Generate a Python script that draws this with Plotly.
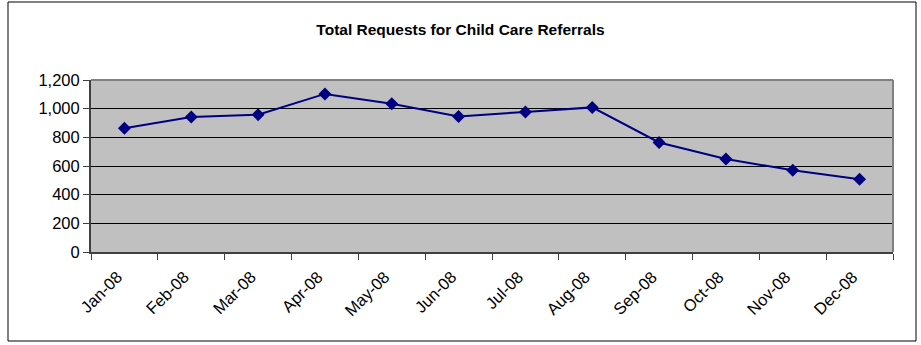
import plotly.graph_objects as go

months = ["Jan-08", "Feb-08", "Mar-08", "Apr-08", "May-08", "Jun-08",
          "Jul-08", "Aug-08", "Sep-08", "Oct-08", "Nov-08", "Dec-08"]
requests = [864, 942, 958, 1103, 1035, 946, 977, 1009, 764, 649, 570, 507]
y_ticks = [0, 200, 400, 600, 800, 1000, 1200]
y_tick_labels = ["0", "200", "400", "600", "800", "1,000", "1,200"]
title_text = "Total Requests for Child Care Referrals"

fig = go.Figure()
fig.add_trace(go.Scatter(
    x=months, y=requests, mode="lines+markers",
    line=dict(color="#000080", width=2),
    marker=dict(symbol="diamond", size=10, color="#000080"),
    showlegend=False, hoverinfo="x+y",
))

W, H = 921, 345
ml, mr, mt, mb = 91, 28, 80, 93
pw = W - ml - mr
ph = H - mt - mb

def px_to_paper_x(px):
    return (px - ml) / pw

def px_to_paper_y(py):
    return (H - mb - py) / ph

fig.update_layout(
    width=W, height=H,
    margin=dict(l=ml, r=mr, t=mt, b=mb),
    paper_bgcolor="white",
    plot_bgcolor="#C0C0C0",
    font=dict(family="Liberation Sans, Arial, sans-serif", size=17, color="black"),
    title=dict(text="<b>" + title_text + "</b>", x=0.5, xanchor="center",
               xref="container", y=1 - 30 / H, yanchor="middle",
               font=dict(size=15.5, color="black")),
    xaxis=dict(
        type="category", range=[-0.5, len(months) - 0.5],
        showgrid=False, showline=True, linecolor="#404040", linewidth=2,
        ticks="outside", ticklen=6, tickcolor="#404040", tickwidth=1,
        tickson="boundaries", tickangle=-45, tickfont=dict(size=16.5),
        ticklabelstandoff=7, ticklabelshift=-7, fixedrange=True,
    ),
    yaxis=dict(
        range=[0, 1200], tickvals=y_ticks, ticktext=y_tick_labels,
        showgrid=True, gridcolor="black", gridwidth=1,
        showline=True, linecolor="#404040", linewidth=2,
        ticks="outside", ticklen=6, tickcolor="#404040",
        tickfont=dict(size=16.5), zeroline=False, fixedrange=True,
    ),
    shapes=[
        dict(type="line", xref="paper", yref="paper", x0=0, x1=1, y0=1, y1=1,
             line=dict(color="#808080", width=2)),
        dict(type="line", xref="paper", yref="paper", x0=1, x1=1, y0=0, y1=1,
             line=dict(color="#808080", width=2)),
        dict(type="rect", xref="paper", yref="paper",
             x0=px_to_paper_x(8), x1=px_to_paper_x(916),
             y0=px_to_paper_y(341), y1=px_to_paper_y(2),
             line=dict(color="black", width=1), fillcolor="rgba(0,0,0,0)",
             layer="below"),
    ],
)

fig.write_html("out.html")
